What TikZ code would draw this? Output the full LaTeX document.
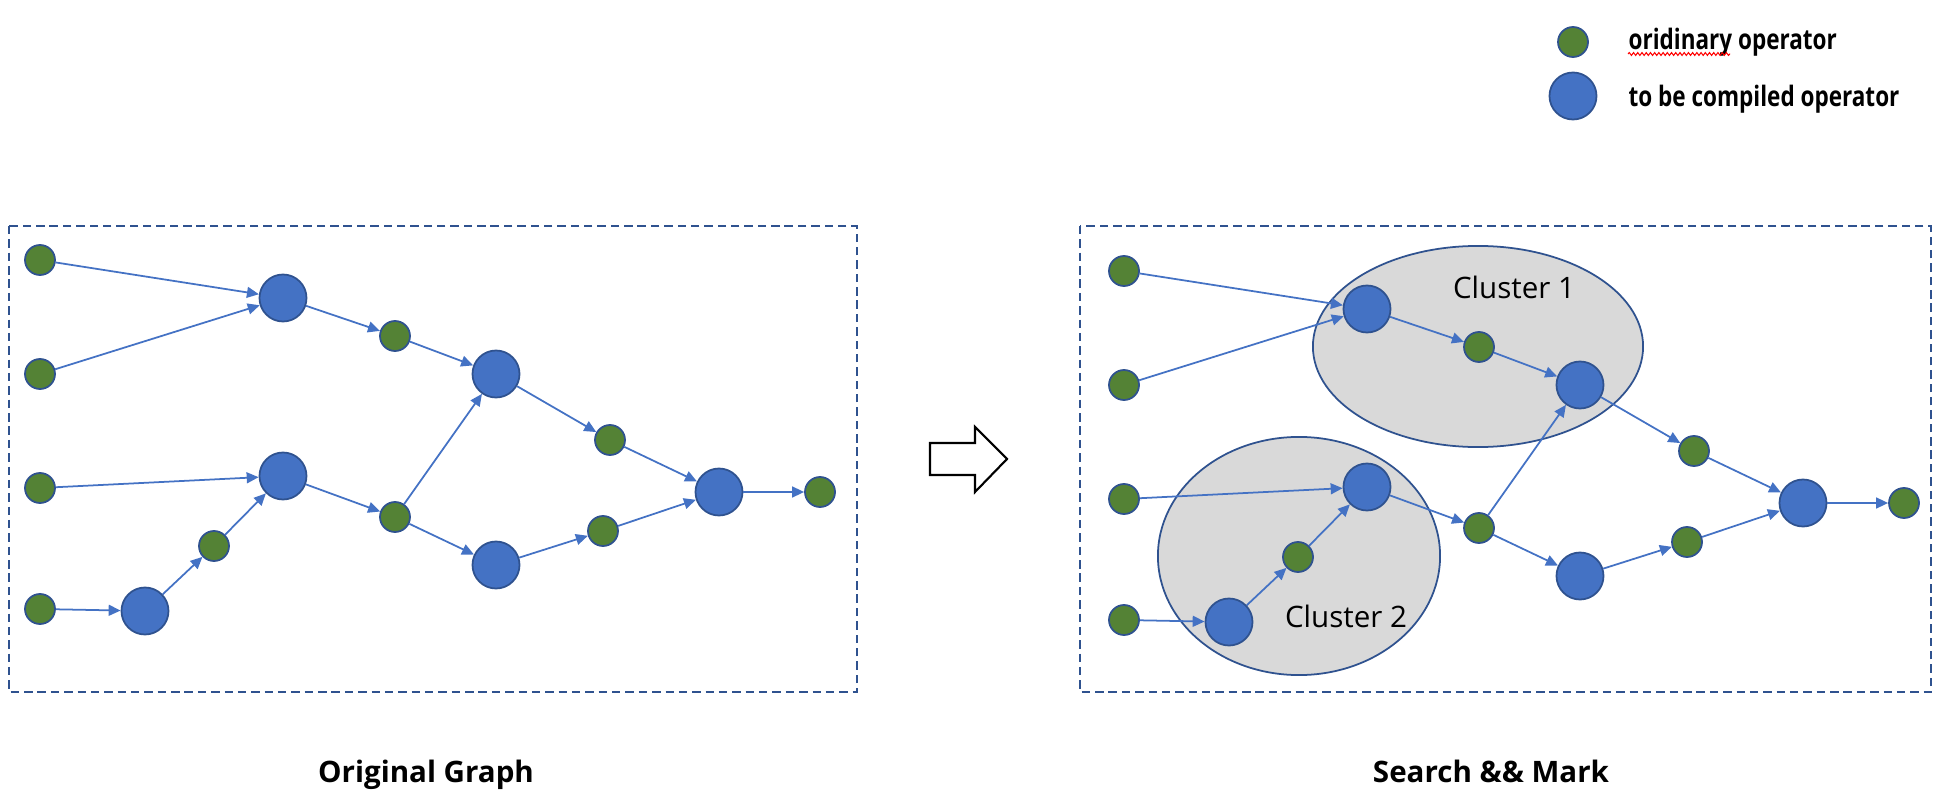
\documentclass[tikz,border=0pt]{standalone}
\usepackage{fontspec}
\setmainfont{Open Sans}
\newfontfamily\legendfont[FakeStretch=0.8]{Open Sans}
\usetikzlibrary{arrows.meta,decorations.pathmorphing}

\definecolor{opblue}{HTML}{4472C4}
\definecolor{opgreen}{HTML}{548235}
\definecolor{opline}{HTML}{2F528F}
\definecolor{clfill}{HTML}{D9D9D9}

% one operator graph, drawn twice with a name prefix
\newcommand{\opgraph}{%
  \node[ord] (i1) at (40,260) {};
  \node[ord] (i2) at (40,374) {};
  \node[ord] (i3) at (40,488) {};
  \node[ord] (i4) at (40,609) {};
  \node[comp] (c0) at (145,611) {};
  \node[comp] (c1) at (283,298) {};
  \node[comp] (c2) at (283,476) {};
  \node[comp] (c3) at (496,374) {};
  \node[comp] (c4) at (496,565) {};
  \node[comp] (c5) at (719,492) {};
  \node[ord] (o1) at (395,336) {};
  \node[ord] (o2) at (214,546) {};
  \node[ord] (o3) at (395,517) {};
  \node[ord] (o4) at (610,440) {};
  \node[ord] (o5) at (603,531) {};
  \node[ord] (o6) at (820,492) {};
  \foreach \a/\b in {i1/c1,i2/c1,c1/o1,o1/c3,i3/c2,i4/c0,c0/o2,o2/c2,
                     c2/o3,o3/c3,o3/c4,c3/o4,o4/c5,c4/o5,o5/c5,c5/o6}
    \draw[flow] (\a) -- (\b);
}

\begin{document}
\begin{tikzpicture}[x=0.01cm,y=-0.01cm,
    >={Triangle[length=3.4pt,width=3.1pt]},
    ord/.style={circle,draw=opline,fill=opgreen,line width=0.5pt,
                minimum size=0.3cm,inner sep=0pt},
    comp/.style={circle,draw=opline,fill=opblue,line width=0.5pt,
                 minimum size=0.47cm,inner sep=0pt},
    flow/.style={->,draw=opblue,fill=opblue,line width=0.5pt},
    dashbox/.style={draw=opline,line width=0.65pt,dash pattern=on 2.4pt off 1.4pt},
    cluster/.style={draw=opline,fill=clfill,line width=0.5pt},
    lbl/.style={font=\bfseries\fontsize{8.4}{10}\selectfont,inner sep=0pt},
    cl/.style={font=\fontsize{8.4}{10}\selectfont,inner sep=0pt},
    key/.style={font=\legendfont\bfseries\fontsize{8}{10}\selectfont,inner sep=0pt}]

\useasboundingbox (0,0) rectangle (1948,794);

% legend
\node[ord] (kord) at (1573,42) {};
\node[comp] (kcomp) at (1573,96) {};
\node[key,anchor=base west] (kordtxt) at (1628,50) {oridinary operator};
\node[key,anchor=base west] (kcomptxt) at (1628,107) {to be compiled operator};
\draw[red,line width=0.3pt,decorate,
      decoration={snake,amplitude=0.4pt,segment length=1.2pt}]
  (1628,54) -- (1730,54);

% frames
\draw[dashbox] (9,226) rectangle (857,692);
\draw[dashbox] (1080,226) rectangle (1931,692);

% original graph
\begin{scope}[name prefix=L]
  \opgraph
\end{scope}

% step arrow
\draw[line width=0.6pt,fill=white] (930,443) -- (975,443) -- (975,427)
  -- (1007,459) -- (975,492) -- (975,475) -- (930,475) -- cycle;

% clusters
\draw[cluster] (1478,346.5) ellipse [x radius=1.65cm,y radius=1.005cm];
\draw[cluster] (1299,556) ellipse [x radius=1.41cm,y radius=1.19cm];

% marked graph
\begin{scope}[name prefix=R,shift={(1084,11)}]
  \opgraph
\end{scope}

\node[cl,anchor=base] (cl1) at (1514,298) {Cluster 1};
\node[cl,anchor=base] (cl2) at (1346,627) {Cluster 2};

\node[lbl,anchor=base] (orig) at (426,782) {Original Graph};
\node[lbl,anchor=base] (mark) at (1491,782) {Search \&\& Mark};

\end{tikzpicture}
\end{document}
